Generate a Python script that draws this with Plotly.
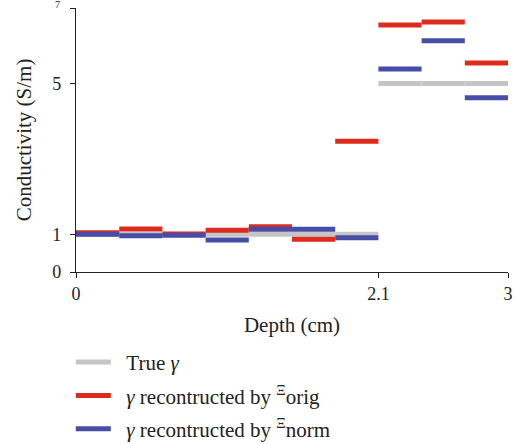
import plotly.graph_objects as go

# Layer boundaries (depth, cm)
layer_edges = [0.0, 0.3, 0.6, 0.9, 1.2, 1.5, 1.8, 2.1, 2.4, 2.7, 3.0]
# Conductivity per layer (S/m)
true_gamma = [1, 1, 1, 1, 1, 1, 1, 5, 5, 5]
gamma_orig = [1.04, 1.14, 1.01, 1.11, 1.20, 0.87, 3.47, 6.55, 6.63, 5.54]
gamma_norm = [1.00, 0.96, 0.975, 0.85, 1.135, 1.135, 0.91, 5.38, 6.13, 4.62]

x_ticks = [0, 2.1, 3]
y_ticks = [0, 1, 5, 7]

PAD = "&nbsp;&nbsp;"
names = [PAD + "True <i>γ</i>",
         PAD + "<i>γ</i> recontructed by <sup>Ξ</sup>orig",
         PAD + "<i>γ</i> recontructed by <sup>Ξ</sup>norm"]
colors = ["#c5c5c5", "#dd2c1d", "#474da6"]
series = [true_gamma, gamma_orig, gamma_norm]

FONT = "Liberation Serif"
TXT = "#222222"


def steps(vals):
    xs, ys = [], []
    for i, v in enumerate(vals):
        xs += [layer_edges[i], layer_edges[i + 1], None]
        ys += [v, v, None]
    return xs, ys


fig = go.Figure()
for i, (nm, col, vals) in enumerate(zip(names, colors, series)):
    xs, ys = steps(vals)
    fig.add_trace(go.Scatter(x=xs, y=ys, mode="lines", name=nm,
                             line=dict(color=col, width=5),
                             legendgroup=str(i), connectgaps=False))

# the top tick label is drawn small, just above its tick (as in the reference)
y_ticktext = [str(t) for t in y_ticks[:-1]] + [""]
fig.add_annotation(x=0, xref="paper", y=y_ticks[-1], yref="y",
                   text=str(y_ticks[-1]), showarrow=False,
                   xanchor="right", yanchor="middle", xshift=-14, yshift=3.5,
                   font=dict(family=FONT, size=10, color=TXT))

fig.update_layout(
    width=518, height=444,
    margin=dict(l=76, r=10, t=8, b=172, autoexpand=False),
    paper_bgcolor="white", plot_bgcolor="white",
    font=dict(family=FONT, size=21, color=TXT),
    showlegend=True,
    legend=dict(x=-0.012, xanchor="left", y=-0.265, yanchor="top",
                font=dict(family=FONT, size=21, color=TXT),
                itemwidth=35, tracegroupgap=3, bgcolor="rgba(0,0,0,0)"),
    xaxis=dict(range=[0, 3], tickvals=x_ticks, ticktext=[str(t) for t in x_ticks],
               showgrid=False, zeroline=False, showline=True, linecolor=TXT,
               linewidth=1.3, ticks="outside", ticklen=5, tickcolor=TXT,
               ticklabeloverflow="allow", automargin=False,
               tickfont=dict(family=FONT, size=18, color=TXT),
               title=dict(text="Depth (cm)", font=dict(family=FONT, size=21), standoff=14)),
    yaxis=dict(range=[0, 7], tickvals=y_ticks, ticktext=y_ticktext,
               showgrid=False, zeroline=False,
               showline=True, linecolor=TXT, linewidth=1.3, ticks="outside",
               ticklen=5, tickcolor=TXT, ticklabelstandoff=5,
               ticklabeloverflow="allow", automargin=False,
               tickfont=dict(family=FONT, size=18, color=TXT),
               title=dict(text="Conductivity (S/m)", font=dict(family=FONT, size=21), standoff=14)),
)

fig.write_html("out.html")
